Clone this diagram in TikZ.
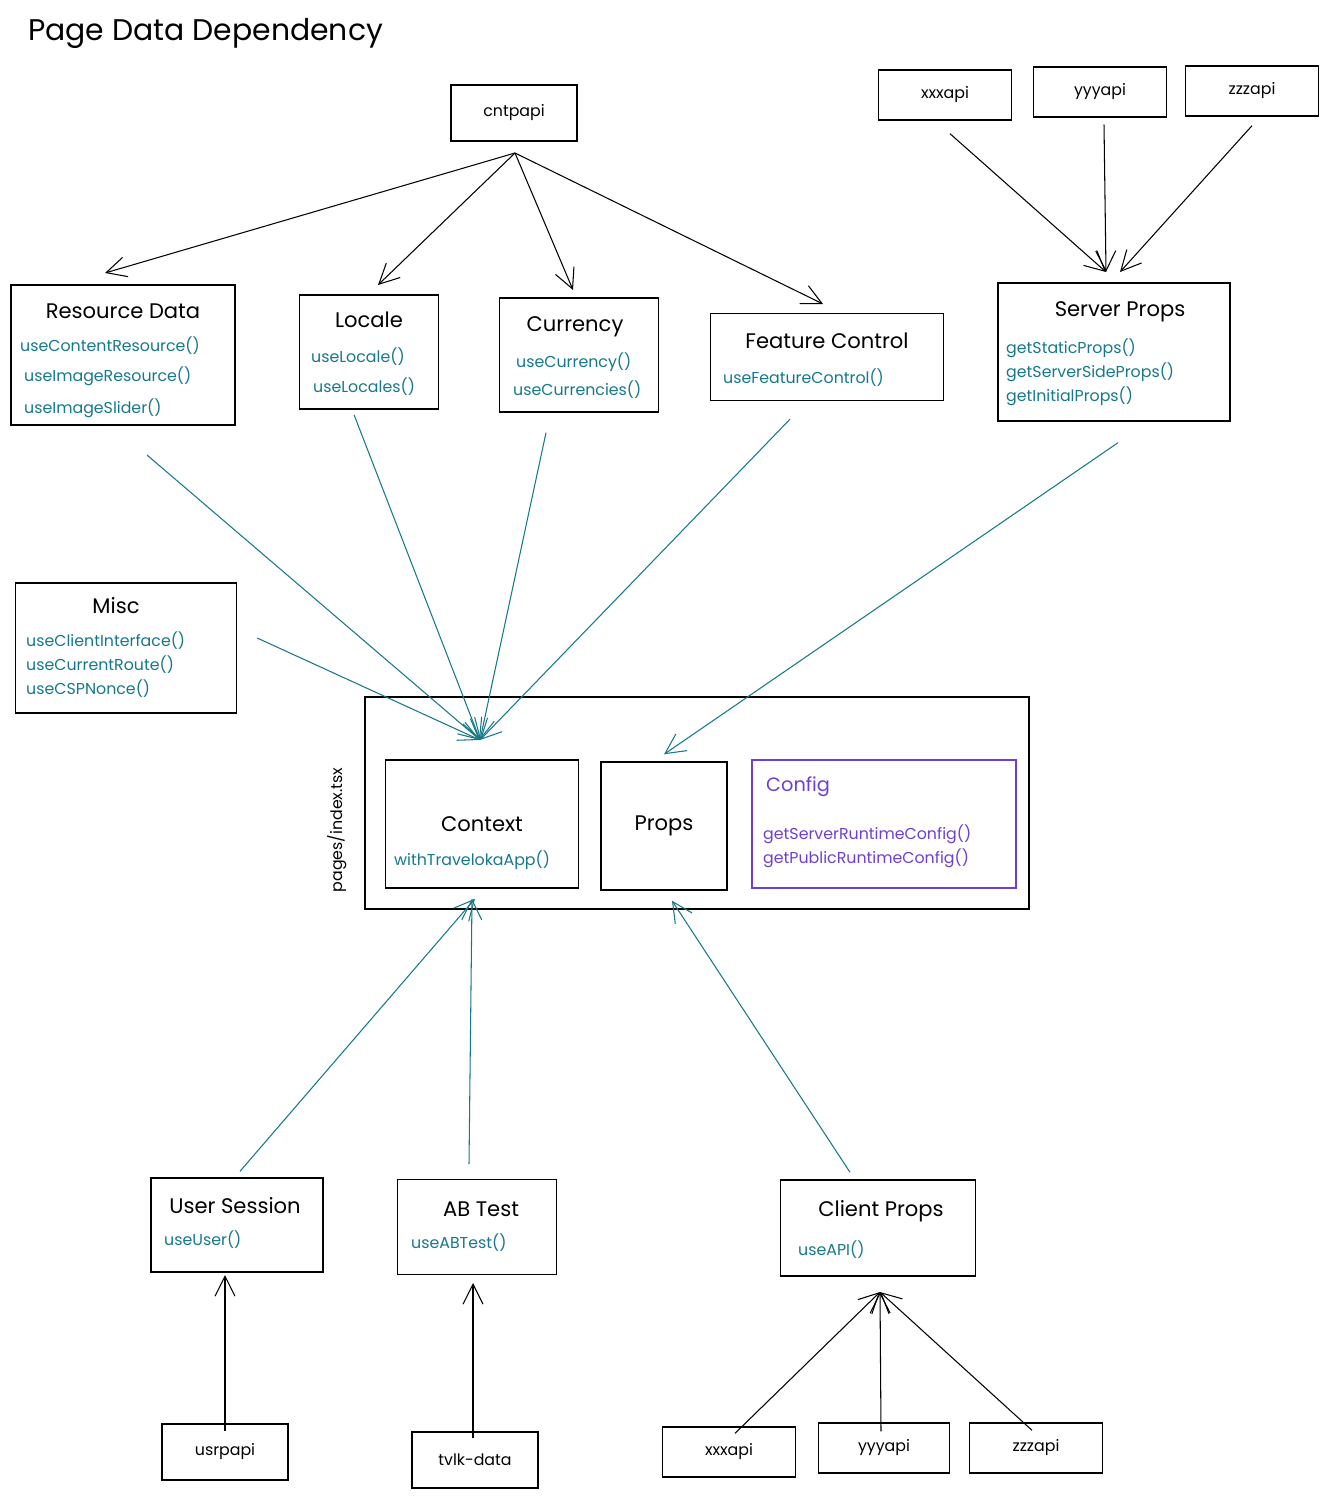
\documentclass[tikz,border=0pt]{standalone}
\usepackage{fontspec}
\setmainfont{Poppins}
\usetikzlibrary{arrows.meta}
\definecolor{tealc}{HTML}{16788A}
\definecolor{purp}{HTML}{6D3FD8}
\tikzset{
  box/.style={draw,thick,rectangle,inner sep=0pt},
  api/.style={box,font=\fontsize{9}{11}\selectfont},
  head/.style={font=\fontsize{12}{14}\selectfont},
  fn/.style={text=tealc,anchor=west,font=\fontsize{9}{11}\selectfont},
  dep/.style={semithick,-{Straight Barb[length=4mm,width=4mm]}},
  tdep/.style={dep,draw=tealc}
}
\begin{document}
\begin{tikzpicture}[x=0.02cm,y=-0.02cm]
\useasboundingbox (0,0) rectangle (1331,1500);
\node[anchor=west,font=\fontsize{17}{20}\selectfont] (title) at (22,33) {Page Data Dependency};

% sources
\node[api,minimum width=2.52cm,minimum height=1.12cm] (cntp) at (514,113) {cntpapi};
\node[api,minimum width=2.66cm,minimum height=1cm] (xxxt) at (945,95) {xxxapi};
\node[api,minimum width=2.66cm,minimum height=1cm] (yyyt) at (1100,92) {yyyapi};
\node[api,minimum width=2.66cm,minimum height=1cm] (zzzt) at (1252,91) {zzzapi};

% data boxes
\node[box,minimum width=4.48cm,minimum height=2.8cm] (res) at (123,355) {};
\node[head] at (123,311) {Resource Data};
\node[fn] at (14,346) {useContentResource()};
\node[fn] at (18,376) {useImageResource()};
\node[fn] at (18,408) {useImageSlider()};

\node[box,minimum width=2.78cm,minimum height=2.28cm] (loc) at (369,352) {};
\node[head] at (369,320) {Locale};
\node[fn] at (305,357) {useLocale()};
\node[fn] at (307,387) {useLocales()};

\node[box,minimum width=3.18cm,minimum height=2.28cm] (cur) at (579,355) {};
\node[head] at (575,327) {Currency};
\node[fn] at (510,362) {useCurrency()};
\node[fn] at (507,390) {useCurrencies()};

\node[box,minimum width=4.66cm,minimum height=1.74cm] (feat) at (827,357) {};
\node[head] at (827,341) {Feature Control};
\node[fn] at (717,378) {useFeatureControl()};

\node[box,minimum width=4.64cm,minimum height=2.76cm] (srv) at (1114,352) {};
\node[head] at (1120,312) {Server Props};
\node[fn] at (1000,348) {getStaticProps()};
\node[fn] at (1000,372) {getServerSideProps()};
\node[fn] at (1000,396) {getInitialProps()};

\node[box,minimum width=4.42cm,minimum height=2.6cm] (misc) at (126,648) {};
\node[head] at (116,606) {Misc};
\node[fn] at (20,641) {useClientInterface()};
\node[fn] at (20,665) {useCurrentRoute()};
\node[fn] at (20,689) {useCSPNonce()};

% page
\node[box,minimum width=13.28cm,minimum height=4.24cm] (page) at (697,803) {};
\node[rotate=90,font=\fontsize{9}{11}\selectfont] at (337,830) {pages/index.tsx};
\node[box,minimum width=3.86cm,minimum height=2.56cm] (ctx) at (482,824) {};
\node[head] at (482,824) {Context};
\node[fn] at (388,860) {withTravelokaApp()};
\node[box,minimum width=2.52cm,minimum height=2.56cm,head] (props) at (664,826) {Props};
\node[box,draw=purp,minimum width=5.28cm,minimum height=2.56cm] (cfg) at (884,824) {};
\node[fn,text=purp,font=\fontsize{11}{13}\selectfont] at (760,787) {Config};
\node[fn,text=purp] at (757,834) {getServerRuntimeConfig()};
\node[fn,text=purp] at (757,858) {getPublicRuntimeConfig()};

% bottom
\node[box,minimum width=3.44cm,minimum height=1.88cm] (usr) at (237,1225) {};
\node[head] at (235,1206) {User Session};
\node[fn] at (158,1240) {useUser()};
\node[box,minimum width=3.18cm,minimum height=1.9cm] (ab) at (477,1227) {};
\node[head] at (481,1209) {AB Test};
\node[fn] at (405,1243) {useABTest()};
\node[box,minimum width=3.9cm,minimum height=1.92cm] (cli) at (878,1228) {};
\node[head] at (881,1211) {Client Props};
\node[fn] at (792,1250) {useAPI()};

\node[api,minimum width=2.52cm,minimum height=1.12cm] (usrp) at (225,1452) {usrpapi};
\node[api,minimum width=2.52cm,minimum height=1.12cm] (tvlk) at (475,1460) {tvlk-data};
\node[api,minimum width=2.66cm,minimum height=1cm] (xxxb) at (729,1452) {xxxapi};
\node[api,minimum width=2.62cm,minimum height=1cm] (yyyb) at (884,1448) {yyyapi};
\node[api,minimum width=2.66cm,minimum height=1cm] (zzzb) at (1036,1448) {zzzapi};

% junctions
\coordinate (cntpout) at (515,153);
\coordinate (ctxin) at (480,740);
\coordinate (srvin) at (1106,272);
\coordinate (cliin) at (880,1292);

% black deps
\draw[dep] (cntpout) -- (105,273);
\draw[dep] (cntpout) -- (378,285);
\draw[dep] (cntpout) -- (573,290);
\draw[dep] (cntpout) -- (823,304);
\draw[dep] ([xshift=0.1cm,yshift=-0.26cm]xxxt.south) -- (srvin);
\draw[dep] ([xshift=0.08cm,yshift=-0.14cm]yyyt.south) -- (srvin);
\draw[dep] ([yshift=-0.18cm]zzzt.south) -- (1120,272);
\draw[dep] ([yshift=-0.16cm]usrp.north) -- (usrp.north |- 0,1275);
\draw[dep] ([xshift=-0.04cm,yshift=-0.14cm]tvlk.north) -- ([xshift=-0.04cm]tvlk.north |- 0,1283);
\draw[dep] ([xshift=0.12cm,yshift=-0.14cm]xxxb.north) -- (cliin);
\draw[dep] ([xshift=-0.06cm,yshift=-0.18cm]yyyb.north) -- (cliin);
\draw[dep] ([xshift=-0.08cm,yshift=-0.16cm]zzzb.north) -- (cliin);

% teal deps
\draw[tdep] (147,455) -- (ctxin);
\draw[tdep] ([xshift=-0.3cm,yshift=-0.1cm]loc.south) -- (ctxin);
\draw[tdep] ([xshift=-0.66cm,yshift=-0.4cm]cur.south) -- (ctxin);
\draw[tdep] ([xshift=-0.74cm,yshift=-0.36cm]feat.south) -- (ctxin);
\draw[tdep] ([xshift=0.4cm,yshift=0.2cm]misc.east) -- (ctxin);
\draw[tdep] ([xshift=0.08cm,yshift=-0.42cm]srv.south) -- ([yshift=0.14cm]props.north);
\draw[tdep] ([xshift=0.06cm,yshift=0.12cm]usr.north) -- ([xshift=-0.14cm,yshift=-0.2cm]ctx.south);
\draw[tdep] ([xshift=-0.16cm,yshift=0.3cm]ab.north) -- ([xshift=-0.2cm,yshift=-0.2cm]ctx.south);
\draw[tdep] ([xshift=-0.56cm,yshift=0.14cm]cli.north) -- ([xshift=0.16cm,yshift=-0.2cm]props.south);
\end{tikzpicture}
\end{document}
